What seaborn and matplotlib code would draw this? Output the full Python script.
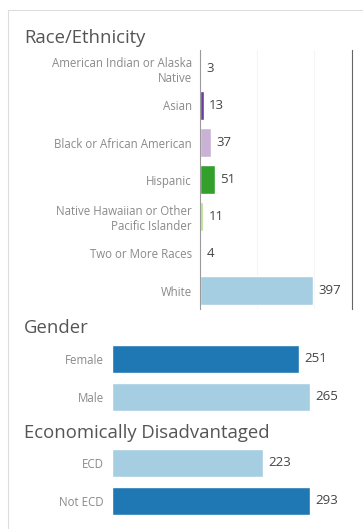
import pandas as pd
import seaborn as sns
import matplotlib.pyplot as plt
from matplotlib.lines import Line2D

race = ['American Indian or Alaska\nNative', 'Asian', 'Black or African American', 'Hispanic',
        'Native Hawaiian or Other\nPacific Islander', 'Two or More Races', 'White']
race_n = [3, 13, 37, 51, 11, 4, 397]
race_colors = ['#1f78b4', '#6a3d9a', '#cab2d6', '#33a02c', '#b2df8a', '#fdbf6f', '#a6cee3']

gender = ['Female', 'Male']
gender_n = [251, 265]
gender_colors = ['#1f78b4', '#a6cee3']

ecd = ['ECD', 'Not ECD']
ecd_n = [223, 293]
ecd_colors = ['#a6cee3', '#1f78b4']

sns.set_style('white')
plt.rcParams['font.family'] = ['Open Sans', 'DejaVu Sans']

W, H = 363, 529
fig = plt.figure(figsize=(W / 100, H / 100), dpi=100)


def px_axes(left, top, right, bottom):
    return fig.add_axes([left / W, 1 - bottom / H, (right - left) / W, (bottom - top) / H])


def panel(ax, cats, vals, colors, xmax, width, grid=()):
    df = pd.DataFrame({'cat': cats, 'n': vals})
    sns.barplot(data=df, y='cat', x='n', hue='cat', palette=colors, legend=False,
                width=width, saturation=1, ax=ax)
    ax.set_xlim(0, xmax)
    for g in grid:
        ax.axvline(g, color='#f5f5f5', lw=0.8, zorder=0)
    for c in ax.containers:
        ax.bar_label(c, padding=4, fontsize=9.5, color='#444444')
    ax.set_xlabel('')
    ax.set_ylabel('')
    ax.set_xticks([])
    ax.tick_params(axis='y', length=0, pad=6, labelsize=8.3, labelcolor='#8a8a8a')
    for s in ['top', 'bottom', 'right', 'left']:
        ax.spines[s].set_visible(False)


ax1 = px_axes(200, 50, 352, 309)
panel(ax1, race, race_n, race_colors, 533, 0.76, grid=(200, 400))
ax1.spines['left'].set_visible(True)
ax1.spines['left'].set_color('#9a9a9a')
ax1.spines['left'].set_linewidth(0.8)
ax1.spines['right'].set_visible(True)
ax1.spines['right'].set_color('#666666')
ax1.spines['right'].set_linewidth(0.8)

ax2 = px_axes(112, 340, 352, 416)
panel(ax2, gender, gender_n, gender_colors, 322, 0.74)

ax3 = px_axes(112, 444, 352, 520)
panel(ax3, ecd, ecd_n, ecd_colors, 355, 0.74)

# section titles
for txt, y in [('Race/Ethnicity', 38), ('Gender', 328), ('Economically Disadvantaged', 433)]:
    fig.text(24 / W, 1 - y / H, txt, fontsize=13.3, color='#555555', va='center', ha='left')

# outer frame lines
fig.add_artist(Line2D([8 / W, 1], [1 - 10 / H, 1 - 10 / H], color='#dddddd', lw=0.8))
fig.add_artist(Line2D([8 / W, 8 / W], [0, 1 - 10 / H], color='#dddddd', lw=0.8))

fig.savefig('out.png', dpi=100, facecolor='white')
